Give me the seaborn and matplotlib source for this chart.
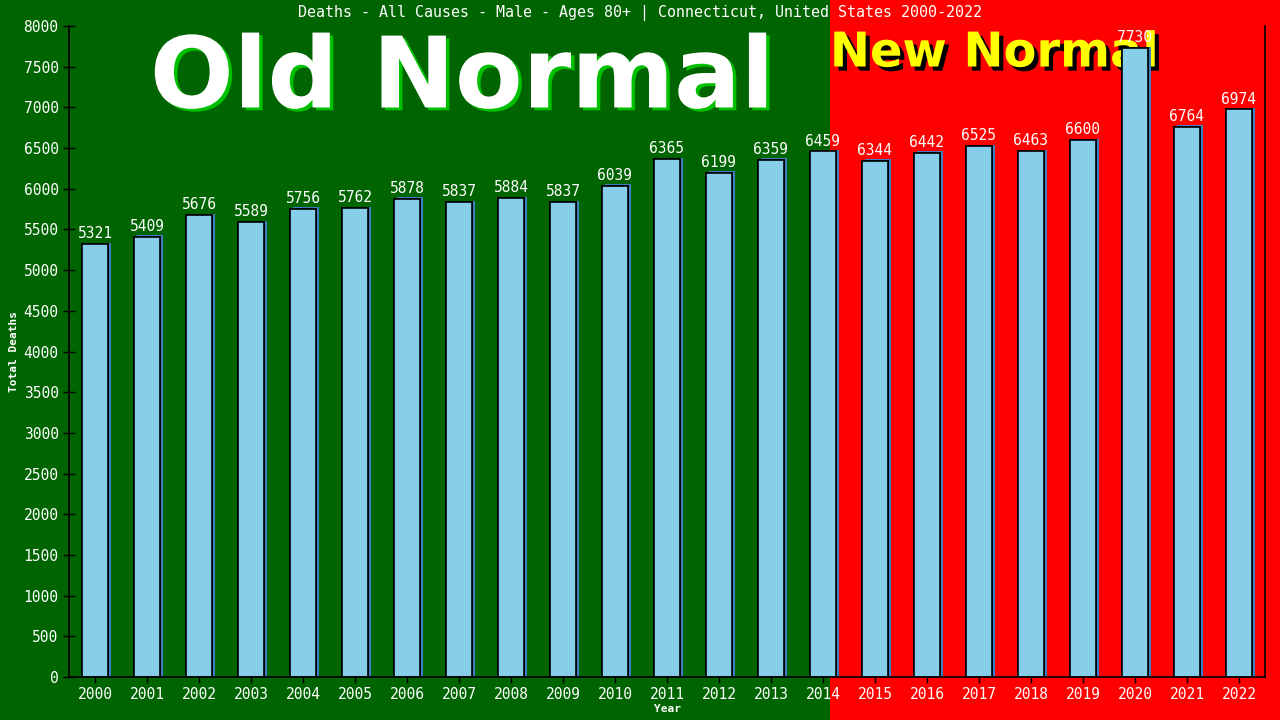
import matplotlib
matplotlib.use("Agg")
import matplotlib.pyplot as plt
import matplotlib.patheffects as pe
from matplotlib.patches import Rectangle
import seaborn as sns
import pandas as pd

years = [str(y) for y in range(2000, 2023)]
deaths = [5321, 5409, 5676, 5589, 5756, 5762, 5878, 5837, 5884, 5837, 6039, 6365,
          6199, 6359, 6459, 6344, 6442, 6525, 6463, 6600, 7730, 6764, 6974]
y_ticks = list(range(0, 8001, 500))
title = "Deaths - All Causes - Male - Ages 80+ | Connecticut, United States 2000-2022"

df = pd.DataFrame({"Year": years, "Deaths": deaths})

sns.set_theme(style="white")
plt.rcParams['font.family'] = ['DejaVu Sans Mono', 'DejaVu Sans']

W, H = 1280, 720
fig = plt.figure(figsize=(12.8, 7.2), dpi=100)
fig.patch.set_facecolor("#006400")

ax = fig.add_axes([69 / W, 43 / H, (1265 - 69) / W, (677 - 26) / H])
ax.set_facecolor("none")

ax.add_patch(Rectangle((830 / W, 0), 1 - 830 / W, 1, transform=fig.transFigure,
                       facecolor="#ff0000", edgecolor="none", zorder=0, clip_on=False))

# big background words
ax.text(462 / W, 1 - 80 / H, "Old Normal", ha="center", va="center",
        fontsize=71, fontweight="bold", color="white", family="DejaVu Sans",
        transform=fig.transFigure, clip_on=False,
        path_effects=[pe.withSimplePatchShadow(offset=(2.5, -2), shadow_rgbFace="#00c000", alpha=1)],
        zorder=1)
ax.text(994 / W, 1 - 53 / H, "New Normal", ha="center", va="center",
        fontsize=34.5, fontweight="bold", color="#ffff00", family="DejaVu Sans",
        transform=fig.transFigure, clip_on=False,
        path_effects=[pe.withSimplePatchShadow(offset=(3, -3), shadow_rgbFace="black", alpha=1)],
        zorder=1)

sns.barplot(data=df, x="Year", y="Deaths", color="skyblue", saturation=1,
            edgecolor="black", linewidth=1.2, width=0.5, ax=ax, zorder=3)
for p in ax.patches:
    if p.get_zorder() == 3:
        p.set_path_effects([pe.withSimplePatchShadow(offset=(2, 1), shadow_rgbFace="#3f7fbf", alpha=1),
                            pe.Normal()])

ax.bar_label(ax.containers[0], labels=[str(v) for v in deaths], padding=2,
             color="white", fontsize=10.5, zorder=5)

ax.set_xlim(-0.5, len(years) - 0.5)
ax.set_ylim(0, 8000)
ax.set_yticks(y_ticks)
ax.set_yticklabels([str(t) for t in y_ticks])
ax.tick_params(axis="both", direction="inout", length=8, width=1, color="black",
               labelcolor="white", labelsize=10.5, left=True, bottom=True)
for s in ["left", "bottom", "right"]:
    ax.spines[s].set_visible(True)
    ax.spines[s].set_color("black")
    ax.spines[s].set_linewidth(1.2)
    ax.spines[s].set_zorder(6)
ax.spines["top"].set_visible(False)

ax.set_xlabel("Year", color="white", fontsize=8, fontweight="bold", labelpad=1)
ax.set_ylabel("Total Deaths", color="white", fontsize=8, fontweight="bold", labelpad=3)
fig.text(0.5, 1 - 13 / H, title, ha="center", va="center", color="white", fontsize=10.8)

fig.savefig("out.png", dpi=100, facecolor=fig.get_facecolor())
